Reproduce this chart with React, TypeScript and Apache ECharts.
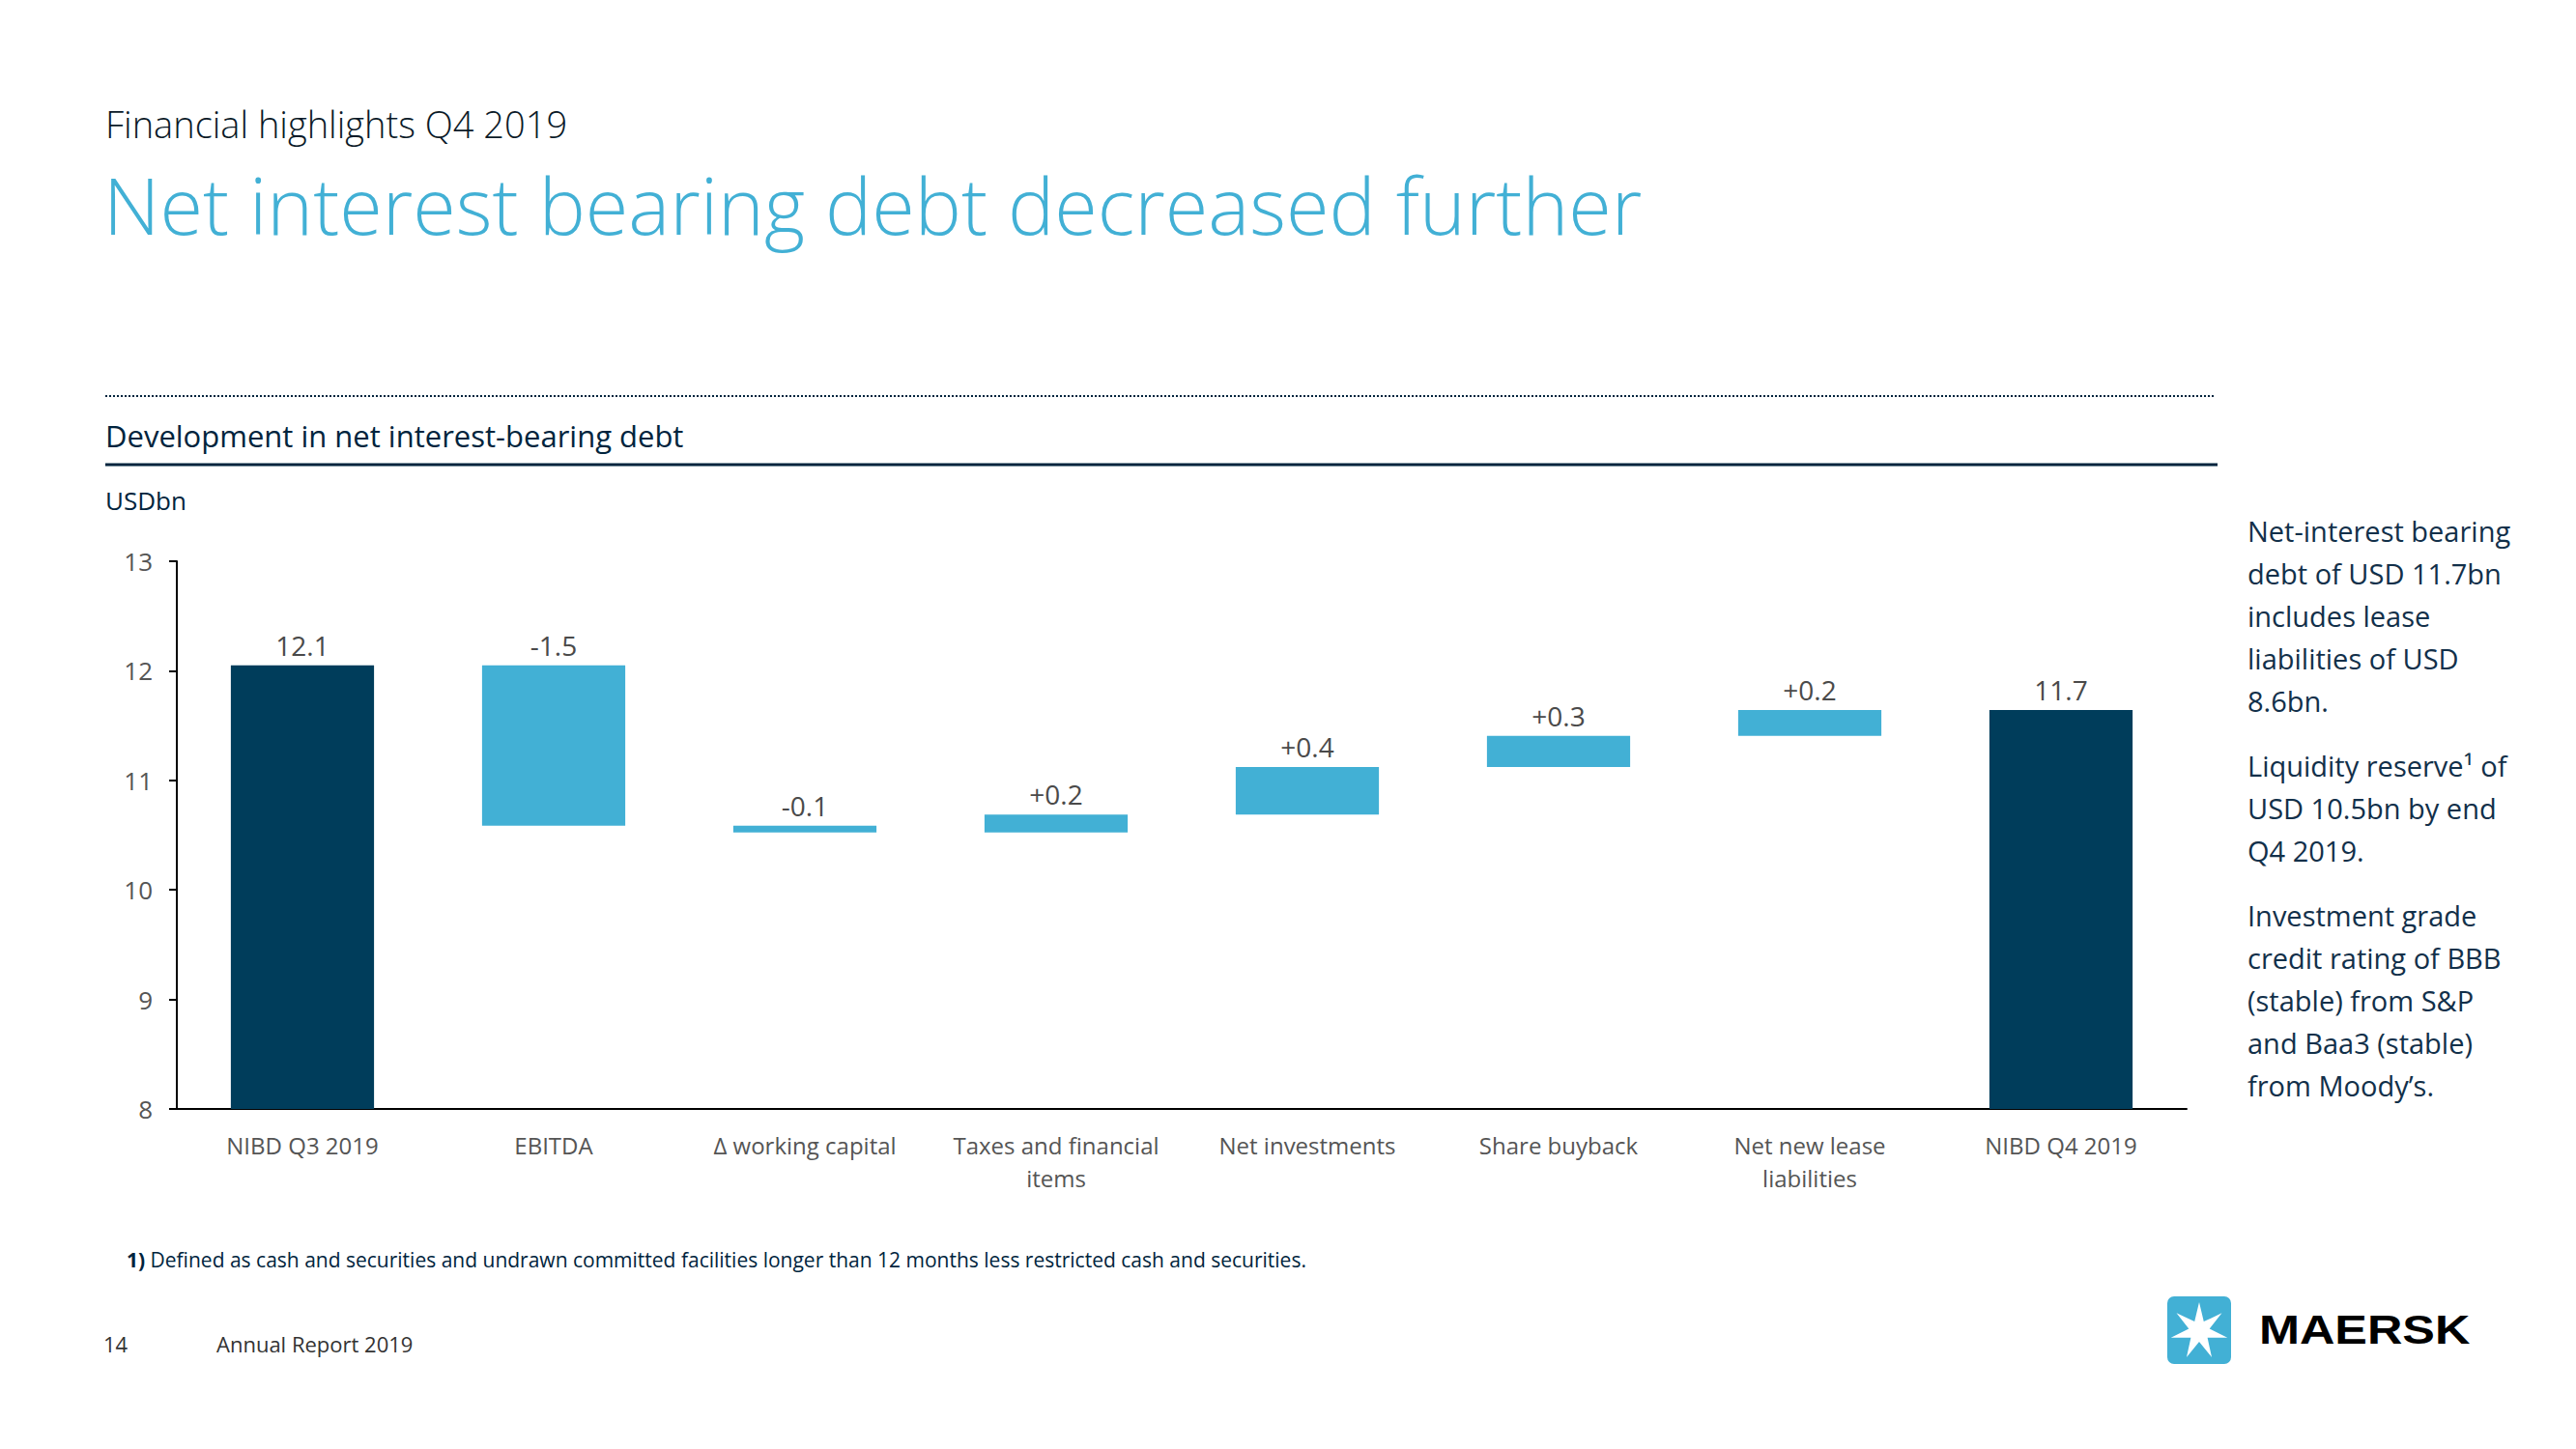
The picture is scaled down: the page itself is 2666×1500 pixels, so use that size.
import React, { useEffect, useRef } from "react";
import * as echarts from "echarts";

const categories = [
  "NIBD Q3 2019",
  "EBITDA",
  "Δ working capital",
  "Taxes and financial\nitems",
  "Net investments",
  "Share buyback",
  "Net new lease\nliabilities",
  "NIBD Q4 2019",
];
const startValue = 12.05;
const changes = [-1.465, -0.06, 0.163, 0.434, 0.283, 0.238];
const endValue = 11.643;
const valueLabels = ["12.1", "-1.5", "-0.1", "+0.2", "+0.4", "+0.3", "+0.2", "11.7"];
const yMin = 8;
const yMax = 13;
const yInterval = 1;

const sideParagraphs = [
  "Net-interest bearing\ndebt of USD 11.7bn\nincludes lease\nliabilities of USD\n8.6bn.",
  "Liquidity reserve¹ of\nUSD 10.5bn by end\nQ4 2019.",
  "Investment grade\ncredit rating of BBB\n(stable) from S&P\nand Baa3 (stable)\nfrom Moody’s.",
];

const DARK = "#003d5b";
const LIGHT = "#42b0d5";
const NAVY = "#00243d";
const FONT = "'Open Sans', 'Noto Sans', sans-serif";

function starPoints(cx: number, cy: number, R: number, r: number, n: number) {
  const pts: number[][] = [];
  for (let i = 0; i < n * 2; i++) {
    const ang = -Math.PI / 2 + (i * Math.PI) / n;
    const rad = i % 2 === 0 ? R : r;
    pts.push([cx + rad * Math.cos(ang), cy + rad * Math.sin(ang)]);
  }
  return pts;
}

export default function App() {
  const ref = useRef<HTMLDivElement>(null);
  useEffect(() => {
    if (!ref.current) return;
    const chart = echarts.init(ref.current, undefined, { renderer: "svg" });

    const base: number[] = [];
    const body: any[] = [];
    let running = startValue;
    base.push(0);
    body.push({ value: startValue, itemStyle: { color: DARK } });
    changes.forEach((c) => {
      const next = running + c;
      base.push(Math.min(running, next));
      body.push({ value: Math.abs(c), itemStyle: { color: LIGHT } });
      running = next;
    });
    base.push(0);
    body.push({ value: endValue, itemStyle: { color: DARK } });

    const graphic: any[] = [
      {
        type: "text",
        x: 109,
        y: 128,
        style: { text: "Financial highlights Q4 2019", font: `300 38px ${FONT}`, lineHeight: 36, fill: "#0b1a28", verticalAlign: "middle" },
      },
      {
        type: "text",
        x: 107,
        y: 211,
        style: { text: "Net interest bearing debt decreased further", font: `300 81px ${FONT}`, lineHeight: 76, fill: LIGHT, verticalAlign: "middle" },
      },
      {
        type: "line",
        shape: { x1: 109, y1: 410, x2: 2292, y2: 410 },
        style: { stroke: NAVY, lineWidth: 2, lineDash: [2, 2] },
      },
      {
        type: "text",
        x: 109,
        y: 451,
        style: { text: "Development in net interest-bearing debt", font: `31px ${FONT}`, fill: NAVY, verticalAlign: "middle" },
      },
      {
        type: "line",
        shape: { x1: 109, y1: 481, x2: 2295, y2: 481 },
        style: { stroke: NAVY, lineWidth: 3 },
      },
      {
        type: "text",
        x: 109,
        y: 518,
        style: { text: "USDbn", font: `26px ${FONT}`, fill: NAVY, verticalAlign: "middle" },
      },
      {
        type: "text",
        x: 131,
        y: 1304,
        style: {
          text: "{b|1)} Defined as cash and securities and undrawn committed facilities longer than 12 months less restricted cash and securities.",
          font: `21px ${FONT}`,
          fill: NAVY,
          verticalAlign: "middle",
          rich: { b: { fontWeight: "bold", fontSize: 21, fontFamily: FONT, fill: NAVY } },
        },
      },
      {
        type: "text",
        x: 107,
        y: 1391,
        style: { text: "14", font: `22px ${FONT}`, fill: "#333", verticalAlign: "middle" },
      },
      {
        type: "text",
        x: 224,
        y: 1391,
        style: { text: "Annual Report 2019", font: `22px ${FONT}`, fill: "#333", verticalAlign: "middle" },
      },
      {
        type: "rect",
        shape: { x: 2243, y: 1342, width: 66, height: 70, r: 7 },
        style: { fill: LIGHT },
      },
      {
        type: "polygon",
        shape: { points: starPoints(2276, 1378, 30, 11, 7) },
        style: { fill: "#fff" },
      },
      {
        type: "text",
        x: 2338,
        y: 1377,
        scaleX: 1.2,
        style: { text: "MAERSK", font: `bold 42px 'Liberation Sans', Arial, sans-serif`, fill: "#000", verticalAlign: "middle" },
      },
    ];
    const paraTops = [527, 770, 925];
    sideParagraphs.forEach((p, i) => {
      graphic.push({
        type: "text",
        x: 2326,
        y: paraTops[i],
        style: { text: p, font: `29px ${FONT}`, fill: "#12304a", lineHeight: 44, verticalAlign: "top" },
      });
    });

    chart.setOption({
      animation: false,
      backgroundColor: "#fff",
      grid: { left: 183, right: 403, top: 581, bottom: 352, containLabel: false },
      xAxis: {
        type: "category",
        data: categories,
        axisTick: { show: false },
        axisLine: { lineStyle: { color: "#000", width: 2 } },
        axisLabel: { interval: 0, fontSize: 24, color: "#555", lineHeight: 34, margin: 20, fontFamily: FONT },
      },
      yAxis: {
        type: "value",
        min: yMin,
        max: yMax,
        interval: yInterval,
        axisLine: { show: true, lineStyle: { color: "#000", width: 2 } },
        axisTick: { show: true, length: 8, lineStyle: { color: "#000", width: 2 } },
        axisLabel: { fontSize: 26, color: "#555", margin: 25, fontFamily: FONT },
        splitLine: { show: false },
      },
      series: [
        {
          type: "bar",
          stack: "w",
          data: base,
          barWidth: "57%",
          itemStyle: { color: "transparent" },
          silent: true,
        },
        {
          type: "bar",
          stack: "w",
          data: body,
          barWidth: "57%",
          label: {
            show: true,
            position: "top",
            distance: 7,
            fontSize: 28,
            color: "#4a4a4a",
            fontFamily: FONT,
            formatter: (p: any) => valueLabels[p.dataIndex],
          },
        },
      ],
      graphic,
    });
    return () => chart.dispose();
  }, []);
  return (
    <div
      ref={ref}
      style={{ position: "fixed", left: 0, top: 0, width: "2666px", height: "1500px", background: "#fff" }}
    />
  );
}
